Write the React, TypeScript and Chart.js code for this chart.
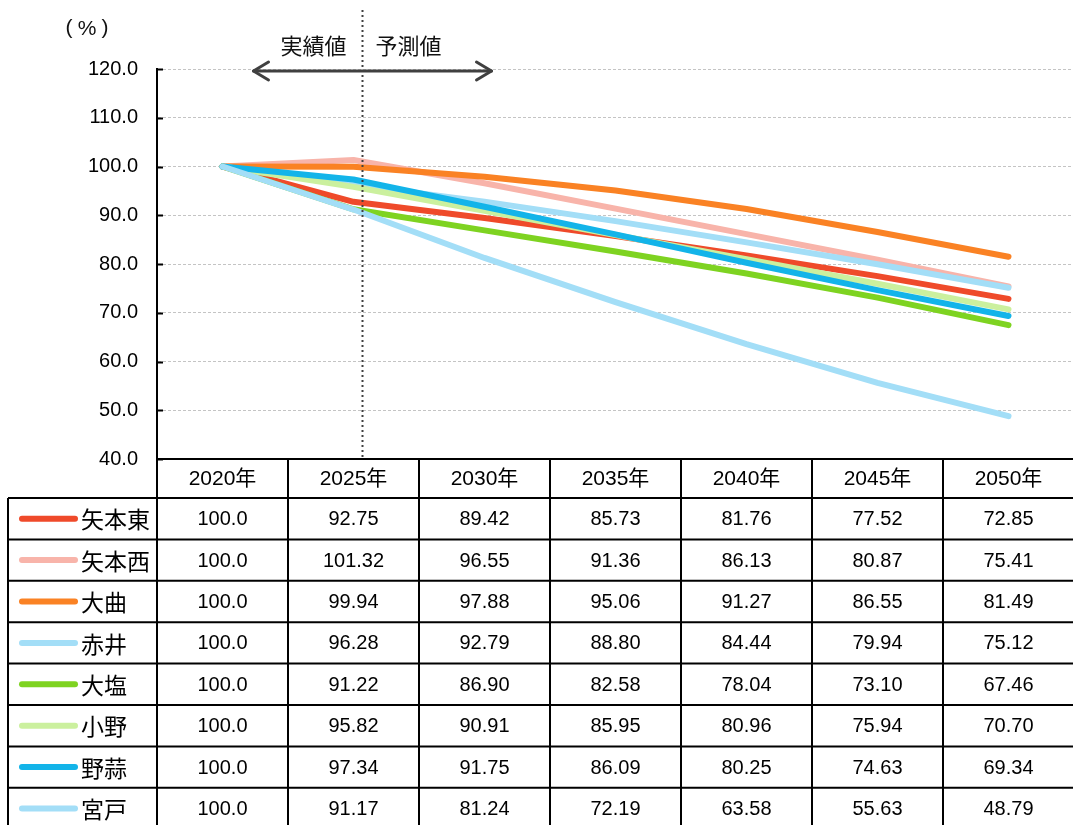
import React, { useEffect, useRef } from "react";
import { Chart, registerables } from "chart.js";

Chart.register(...registerables);

const categories = ["2020年", "2025年", "2030年", "2035年", "2040年", "2045年", "2050年"];
const seriesNames = ["矢本東", "矢本西", "大曲", "赤井", "大塩", "小野", "野蒜", "宮戸"];
const yamotoHigashi = [100.0, 92.75, 89.42, 85.73, 81.76, 77.52, 72.85];
const yamotoNishi = [100.0, 101.32, 96.55, 91.36, 86.13, 80.87, 75.41];
const omagari = [100.0, 99.94, 97.88, 95.06, 91.27, 86.55, 81.49];
const akai = [100.0, 96.28, 92.79, 88.8, 84.44, 79.94, 75.12];
const oshio = [100.0, 91.22, 86.9, 82.58, 78.04, 73.1, 67.46];
const ono = [100.0, 95.82, 90.91, 85.95, 80.96, 75.94, 70.7];
const nobiru = [100.0, 97.34, 91.75, 86.09, 80.25, 74.63, 69.34];
const miyato = [100.0, 91.17, 81.24, 72.19, 63.58, 55.63, 48.79];
const seriesValues = [yamotoHigashi, yamotoNishi, omagari, akai, oshio, ono, nobiru, miyato];
const seriesColors = ["#EF4A2A", "#F8B4AA", "#FA8224", "#A3DEF7", "#7ED321", "#CBF09E", "#13B4E9", "#A3DEF7"];
const yMin = 40;
const yMax = 120;
const yStep = 10;
const unitLabelParts = ["(", "%", ")"];
const actualLabel = "実績値";
const forecastLabel = "予測値";

const FONT = '"Liberation Sans", "Noto Sans CJK JP", sans-serif';
const CJK = '"Noto Sans CJK JP", sans-serif';

const fmt = (v: number, i: number) => (i === 0 ? v.toFixed(1) : v.toFixed(2));

const overlayPlugin = {
  id: "overlayTable",
  afterDraw(chart: any) {
    const ctx = chart.ctx as CanvasRenderingContext2D;
    const xs = chart.scales.x;
    const ys = chart.scales.y;
    const area = chart.chartArea;
    const n = categories.length;
    const colW = (area.right - area.left) / n;
    const headerTop = area.bottom;
    const headerH = 39;
    const rowH = 41.4;
    const legendLeft = 8;
    ctx.save();

    // inner tick marks on y axis
    ctx.strokeStyle = "#000";
    ctx.lineWidth = 2;
    for (let v = yMin; v <= yMax; v += yStep) {
      const y = Math.round(ys.getPixelForValue(v)) + 0.5;
      ctx.beginPath();
      ctx.moveTo(area.left, y);
      ctx.lineTo(area.left + 6, y);
      ctx.stroke();
    }

    // dotted divider between actual and forecast
    const divX = Math.round(xs.getPixelForValue(1) + 8) + 0.5;
    ctx.strokeStyle = "#404040";
    ctx.lineWidth = 2;
    ctx.setLineDash([2, 3]);
    ctx.beginPath();
    ctx.moveTo(divX, 10);
    ctx.lineTo(divX, headerTop);
    ctx.stroke();
    ctx.setLineDash([]);

    // double arrow
    const arrowY = 71;
    const ax1 = xs.getPixelForValue(0) + 31;
    const ax2 = xs.getPixelForValue(2) + 7;
    ctx.strokeStyle = "#404040";
    ctx.lineWidth = 3;
    ctx.lineCap = "round";
    ctx.lineJoin = "round";
    ctx.beginPath();
    ctx.moveTo(ax1, arrowY);
    ctx.lineTo(ax2, arrowY);
    ctx.stroke();
    ctx.beginPath();
    ctx.moveTo(ax1 + 15, arrowY - 9);
    ctx.lineTo(ax1, arrowY);
    ctx.lineTo(ax1 + 15, arrowY + 9);
    ctx.stroke();
    ctx.beginPath();
    ctx.moveTo(ax2 - 15, arrowY - 9);
    ctx.lineTo(ax2, arrowY);
    ctx.lineTo(ax2 - 15, arrowY + 9);
    ctx.stroke();

    // labels
    ctx.fillStyle = "#111";
    ctx.textBaseline = "middle";
    ctx.textAlign = "center";
    ctx.font = `22px ${CJK}`;
    ctx.fillText(actualLabel, divX - 49, 46);
    ctx.fillText(forecastLabel, divX + 46, 46);
    ctx.font = `21px ${FONT}`;
    ctx.fillText(unitLabelParts[0], 69, 28);
    ctx.fillText(unitLabelParts[1], 87, 29);
    ctx.fillText(unitLabelParts[2], 105, 28);

    // table grid
    ctx.strokeStyle = "#000";
    ctx.lineWidth = 2;
    ctx.lineCap = "butt";
    const rowsTop = headerTop + headerH;
    const nRows = seriesNames.length;
    const tableBottom = rowsTop + rowH * nRows;
    ctx.beginPath();
    ctx.moveTo(area.left, headerTop);
    ctx.lineTo(area.right + 20, headerTop);
    ctx.stroke();
    for (let r = 0; r <= nRows; r++) {
      const y = rowsTop + r * rowH;
      ctx.beginPath();
      ctx.moveTo(legendLeft, y);
      ctx.lineTo(area.right + 20, y);
      ctx.stroke();
    }
    ctx.beginPath();
    ctx.moveTo(legendLeft, rowsTop);
    ctx.lineTo(legendLeft, tableBottom);
    ctx.stroke();
    for (let c = 0; c <= n; c++) {
      const x = xs.getPixelForValue(c) - colW / 2;
      ctx.beginPath();
      ctx.moveTo(x, headerTop);
      ctx.lineTo(x, tableBottom);
      ctx.stroke();
    }

    // header texts
    ctx.fillStyle = "#000";
    ctx.textAlign = "center";
    ctx.textBaseline = "middle";
    ctx.font = `21px ${FONT}`;
    for (let c = 0; c < n; c++) {
      ctx.fillText(categories[c], xs.getPixelForValue(c), headerTop + headerH / 2 + 1);
    }
    // rows
    for (let r = 0; r < nRows; r++) {
      const cy = rowsTop + r * rowH + rowH / 2 + 1;
      ctx.strokeStyle = seriesColors[r];
      ctx.lineWidth = 6;
      ctx.lineCap = "round";
      ctx.beginPath();
      ctx.moveTo(22, cy - 1);
      ctx.lineTo(75, cy - 1);
      ctx.stroke();
      ctx.fillStyle = "#000";
      ctx.textAlign = "left";
      ctx.font = `23px ${CJK}`;
      ctx.fillText(seriesNames[r], 81, cy);
      ctx.textAlign = "center";
      ctx.font = `20px ${FONT}`;
      const vals = seriesValues[r];
      for (let c = 0; c < n; c++) {
        ctx.fillText(fmt(vals[c], c), xs.getPixelForValue(c), cy);
      }
    }
    ctx.restore();
  },
};

export default function App() {
  const ref = useRef<HTMLCanvasElement | null>(null);
  useEffect(() => {
    if (!ref.current) return;
    const chart = new Chart(ref.current, {
      type: "line",
      data: {
        labels: categories,
        datasets: seriesNames.map((name, i) => ({
          label: name,
          data: seriesValues[i],
          borderColor: seriesColors[i],
          backgroundColor: seriesColors[i],
          borderWidth: 6,
          borderCapStyle: "round",
          borderJoinStyle: "round",
          pointRadius: 0,
          tension: 0,
          fill: false,
          order: seriesNames.length - 1 - i,
        })),
      },
      options: {
        responsive: false,
        animation: false,
        devicePixelRatio: 1,
        layout: { padding: { top: 69, bottom: 825 - 459, left: 0, right: 16 } },
        plugins: { legend: { display: false }, tooltip: { enabled: false } },
        scales: {
          x: { type: "category", display: false, offset: true },
          y: {
            min: yMin,
            max: yMax,
            afterFit: (s: any) => {
              s.width = 157;
            },
            ticks: {
              stepSize: yStep,
              padding: 19,
              color: "#000",
              font: { family: FONT, size: 20 },
              callback: (v: any) => Number(v).toFixed(1),
            },
            grid: { color: "#c4c4c4", lineWidth: 1, drawTicks: false },
            border: { display: true, color: "#000", width: 2, dash: [3, 2] },
          },
        },
      },
      plugins: [overlayPlugin],
    } as any);
    return () => chart.destroy();
  }, []);
  return (
    <div style={{ position: "fixed", left: 0, top: 0, width: 1073, height: 825, overflow: "hidden", background: "#fff" }}>
      <canvas ref={ref} width={1090} height={825} style={{ display: "block", width: 1090, height: 825 }} />
    </div>
  );
}
